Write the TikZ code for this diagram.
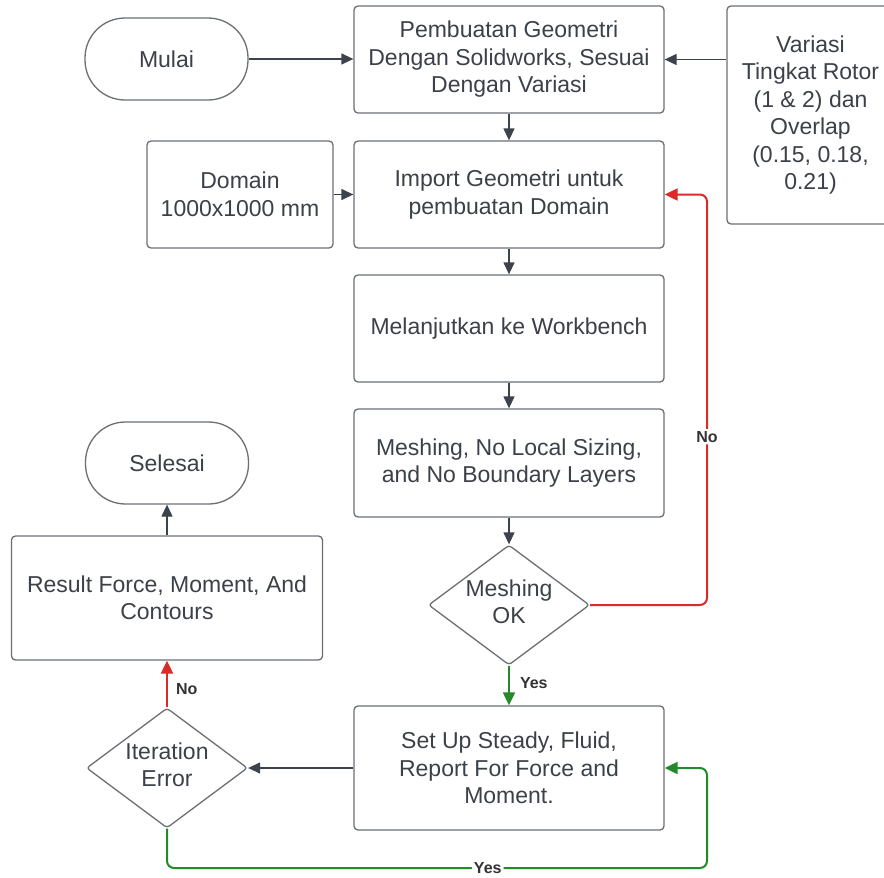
\documentclass[tikz,border=0pt]{standalone}
\usepackage{fontspec}
\setmainfont{Liberation Sans}
\usetikzlibrary{arrows.meta,shapes.geometric}
\definecolor{txt}{HTML}{3C4149}
\definecolor{bord}{HTML}{6B6F76}
\definecolor{arr}{HTML}{3D434C}
\definecolor{myred}{HTML}{DA2A2A}
\definecolor{mygreen}{HTML}{23892A}
\tikzset{
  box/.style={draw=bord, line width=1.3pt, rounded corners=4pt, inner sep=0pt, align=center, text=txt,
    font=\fontsize{23}{27.5}\selectfont},
  stadium/.style={box, rounded corners=40pt},
  dia/.style={draw=bord, line width=1.3pt, shape=diamond, rounded corners=3pt, inner sep=0pt},
  diatext/.style={align=center, text=txt, font=\fontsize{23}{27.5}\selectfont},
  conn/.style={draw=arr, line width=1.3pt, -{Triangle[length=12pt,width=11pt]}},
  redc/.style={draw=myred, line width=2pt, rounded corners=7pt, -{Triangle[length=13pt,width=12pt]}, color=myred},
  greenc/.style={draw=mygreen, line width=2pt, rounded corners=7pt, -{Triangle[length=13pt,width=12pt]}, color=mygreen},
  lbl/.style={text=black!80, font=\fontsize{16}{18}\selectfont\bfseries, inner sep=2pt}
}
\begin{document}
\begin{tikzpicture}[x=1pt,y=-1pt]
\useasboundingbox (0,0) rectangle (884,878);
\fill[white] (0,0) rectangle (884,878);

\node[stadium, minimum width=163pt, minimum height=82pt] (mulai) at (166.5,59) {Mulai};
\node[box, minimum width=310pt, minimum height=107pt] (geo) at (509,59.5) {Pembuatan Geometri\\Dengan Solidworks, Sesuai\\Dengan Variasi};
\node[box, minimum width=167pt, minimum height=218pt] (var) at (810.5,115) {Variasi\\Tingkat Rotor\\(1 \& 2) dan\\Overlap\\(0.15, 0.18,\\0.21)};
\node[box, minimum width=186pt, minimum height=107pt] (dom) at (240,194.5) {Domain\\1000x1000 mm};
\node[box, minimum width=310pt, minimum height=107pt] (imp) at (509,194.5) {Import Geometri untuk\\pembuatan Domain};
\node[box, minimum width=310pt, minimum height=107pt] (mel) at (509,328.5) {Melanjutkan ke Workbench};
\node[box, minimum width=310pt, minimum height=108pt] (msh) at (509,463) {Meshing, No Local Sizing,\\and No Boundary Layers};
\node[dia, minimum width=161pt, minimum height=120pt] (dmesh) at (509,605) {};
\node[diatext] (dmeshT) at (509,602) {Meshing\\OK};
\node[box, minimum width=310pt, minimum height=124pt] (setup) at (509,768) {Set Up Steady, Fluid,\\Report For Force and\\Moment.};
\node[dia, minimum width=161pt, minimum height=120pt] (iter) at (167,768) {};
\node[diatext] (iterT) at (167,765) {Iteration\\Error};
\node[box, minimum width=311pt, minimum height=124pt] (res) at (167,598) {Result Force, Moment, And\\Contours};
\node[stadium, minimum width=163pt, minimum height=82pt] (sel) at (167,463) {Selesai};

\coordinate (rx) at (707,0);
\coordinate (by) at (0,868);

\draw[conn] (mulai.east) -- (mulai.east -| geo.west);
\draw[conn] (var.west |- geo.east) -- (geo.east);
\draw[conn] (geo.south) -- (imp.north);
\draw[conn] (dom.east) -- (imp.west);
\draw[conn] (imp.south) -- (mel.north);
\draw[conn] (mel.south) -- (msh.north);
\draw[conn] (msh.south) -- (dmesh.north);
\draw[conn] (setup.west) -- (iter.east);
\draw[conn] (res.north) -- (sel.south);

\draw[redc] (dmesh.east) -- (dmesh.east -| rx) -- node[pos=0.41, lbl, fill=white] {No} (rx |- imp.east) -- (imp.east);
\draw[greenc] (dmesh.south) -- node[lbl, right=8pt, pos=0.45] {Yes} (setup.north);
\draw[redc] (iter.north) -- node[lbl, right=6pt, pos=0.4] {No} (res.south);
\draw[greenc] (iter.south) -- (iter.south |- by) -- node[pos=0.594, lbl, fill=white] {Yes} (rx |- by) -- (rx |- setup.east) -- (setup.east);
\end{tikzpicture}
\end{document}
